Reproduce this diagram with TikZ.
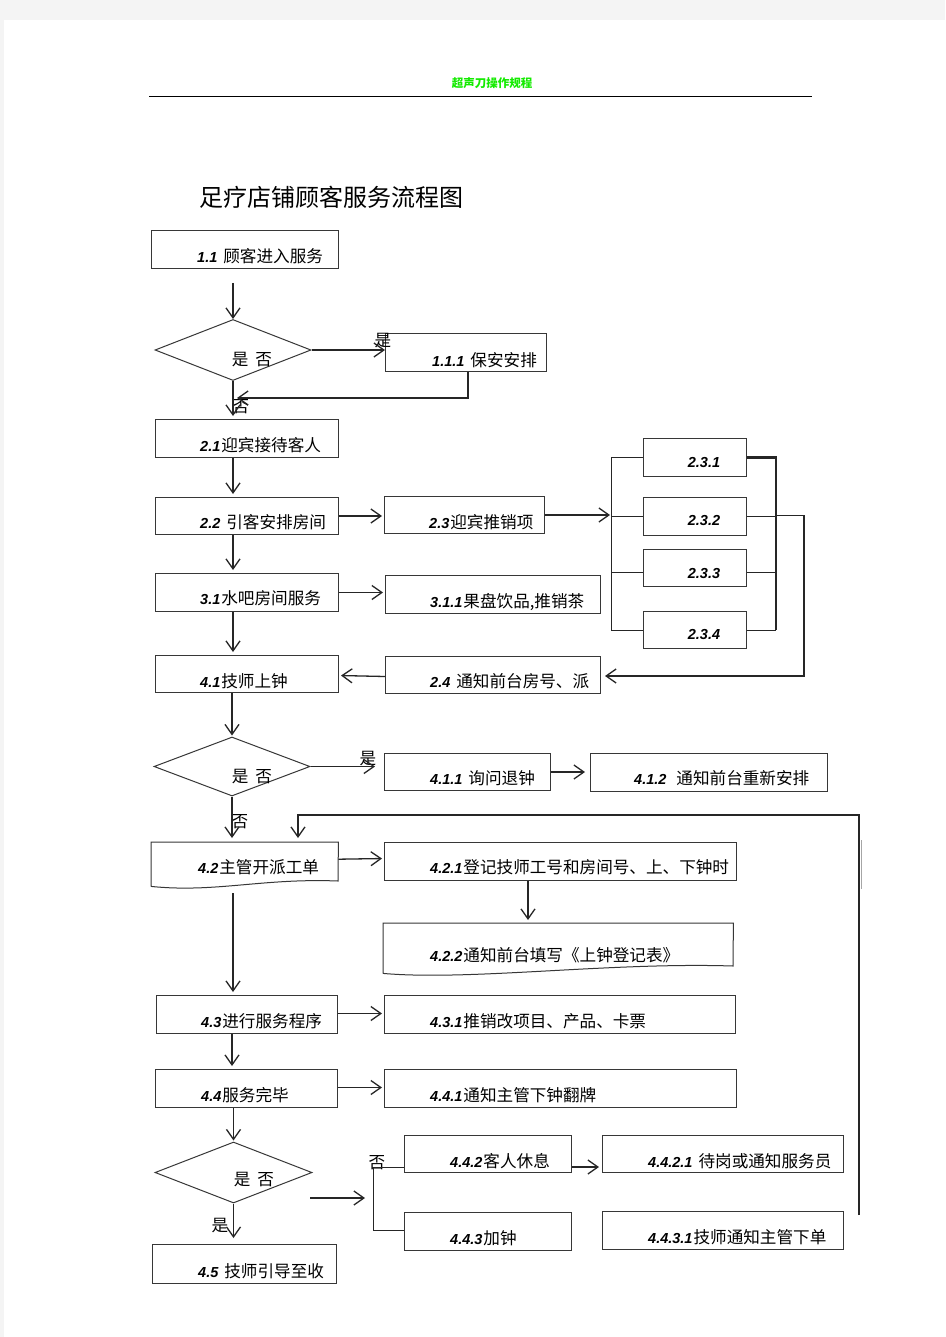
\documentclass[tikz,border=0pt]{standalone}
\usepackage{fontspec}
\newfontfamily\cjkf{Noto Sans CJK SC}
\newfontfamily\numf{Liberation Sans}
\usetikzlibrary{arrows.meta,shapes.geometric,calc}
\definecolor{hdrgreen}{RGB}{20,235,0}
\definecolor{pagegray}{RGB}{244,244,244}
\definecolor{boxline}{RGB}{55,55,55}
\newcommand\nbr[1]{{\numf\bfseries\itshape\fontsize{14.5pt}{16pt}\selectfont #1}}
\begin{document}
\begin{tikzpicture}[x=1pt,y=-1pt,
  box/.style={draw=boxline, line width=1pt, inner sep=0pt, anchor=north west},
  ghost/.style={draw=none, inner sep=0pt, anchor=north west},
  dia/.style={draw=boxline, line width=1pt, shape=diamond, inner sep=0pt},
  txt/.style={anchor=base west, inner sep=0pt, font=\cjkf\fontsize{16.6pt}{19pt}\selectfont},
  dtxt/.style={anchor=base, inner sep=0pt, font=\cjkf\fontsize{16.6pt}{19pt}\selectfont},
  lbl/.style={inner sep=0pt, font=\cjkf\fontsize{16.6pt}{19pt}\selectfont},
  ln/.style={line width=0.9pt, black!85},
  thick line/.style={line width=2.2pt, black!85},
  arr/.style={line width=1.3pt, black!85, -{Straight Barb[length=10pt,width=14pt,line width=1.3pt]}},
  boxpath/.style={draw=boxline, line width=1pt}
]
% page
\fill[pagegray] (0,0) rectangle (945,1337);
\fill[white] (4,20) rectangle (945,1337);
\useasboundingbox (0,0) rectangle (945,1337);

% header
\node[inner sep=0pt, text=hdrgreen, font=\cjkf\bfseries\fontsize{11.5pt}{13pt}\selectfont] (hdr) at (492,83) {超声刀操作规程};
\coordinate (hl1) at (149,97);
\coordinate (hl2) at (812,97);
\draw[line width=1pt, black] (hl1) -- (hl2);
\node[anchor=west, inner sep=0pt, font=\cjkf\fontsize{24pt}{26pt}\selectfont] (title) at (199,197) {足疗店铺顾客服务流程图};

% column coordinate
\coordinate (cx) at (233,0);

% boxes
\node[box, minimum width=187pt, minimum height=38pt] (b11) at (151,230) {};
\node[box, minimum width=161pt, minimum height=38pt] (b111) at (385,333) {};
\node[box, minimum width=183pt, minimum height=38pt] (b21) at (155,419) {};
\node[box, minimum width=183pt, minimum height=37pt] (b22) at (155,497) {};
\node[box, minimum width=160pt, minimum height=37pt] (b23) at (384,496) {};
\node[box, minimum width=103pt, minimum height=38pt] (b231) at (643,438) {};
\node[box, minimum width=103pt, minimum height=38pt] (b232) at (643,497) {};
\node[box, minimum width=103pt, minimum height=37pt] (b233) at (643,549) {};
\node[box, minimum width=103pt, minimum height=37pt] (b234) at (643,611) {};
\node[box, minimum width=215pt, minimum height=37pt] (b24) at (385,656) {};
\node[box, minimum width=183pt, minimum height=38pt] (b31) at (155,573) {};
\node[box, minimum width=215pt, minimum height=38pt] (b311) at (385,575) {};
\node[box, minimum width=183pt, minimum height=37pt] (b41) at (155,655) {};
\node[box, minimum width=166pt, minimum height=37pt] (b411) at (384,753) {};
\node[box, minimum width=237pt, minimum height=38pt] (b412) at (590,753) {};
\node[ghost, minimum width=187pt, minimum height=44pt] (b42) at (151,842) {};
\node[box, minimum width=352pt, minimum height=38pt] (b421) at (384,842) {};
\node[ghost, minimum width=350pt, minimum height=50pt] (b422) at (383,923) {};
\node[box, minimum width=181pt, minimum height=38pt] (b43) at (156,995) {};
\node[box, minimum width=351pt, minimum height=38pt] (b431) at (384,995) {};
\node[box, minimum width=182pt, minimum height=38pt] (b44) at (155,1069) {};
\node[box, minimum width=352pt, minimum height=38pt] (b441) at (384,1069) {};
\node[box, minimum width=167pt, minimum height=37pt] (b442) at (404,1135) {};
\node[box, minimum width=241pt, minimum height=37pt] (b4421) at (602,1135) {};
\node[box, minimum width=167pt, minimum height=38pt] (b443) at (404,1212) {};
\node[box, minimum width=241pt, minimum height=38pt] (b4431) at (602,1211) {};
\node[box, minimum width=184pt, minimum height=39pt] (b45) at (152,1244) {};

% document shapes
\draw[boxpath] (b42.south west) -- (b42.north west) -- (b42.north east) -- (338,881)
  .. controls (262,878) and (215,893) .. (b42.south west);
\draw[boxpath] (b422.south west) -- (b422.north west) -- (b422.north east) -- (733,966)
  .. controls (610,962) and (470,981) .. (b422.south west);

% diamonds
\node[dia, minimum width=156pt, minimum height=61pt] (d1) at (233,350) {};
\node[dia, minimum width=156pt, minimum height=59pt] (d2) at (232,766.5) {};
\node[dia, minimum width=157pt, minimum height=61pt] (d3) at (233.5,1172.5) {};
\node[dtxt] (d1t) at (252,365) {是\hspace{7pt}否};
\node[dtxt] (d2t) at (252,782) {是\hspace{7pt}否};
\node[dtxt] (d3t) at (254,1185) {是\hspace{7pt}否};

% texts
\node[txt] (t11) at (197,263) {\nbr{1.1}\hspace{6pt}顾客进入服务};
\node[txt] (t111) at (432,366) {\nbr{1.1.1}\hspace{6pt}保安安排};
\node[txt] (t21) at (200,451) {\nbr{2.1}\hspace{1pt}迎宾接待客人};
\node[txt] (t22) at (200,528) {\nbr{2.2}\hspace{6pt}引客安排房间};
\node[txt] (t23) at (429,528) {\nbr{2.3}\hspace{1pt}迎宾推销项};
\node[anchor=base, inner sep=0pt] (t231) at (704,467) {\nbr{2.3.1}};
\node[anchor=base, inner sep=0pt] (t232) at (704,525) {\nbr{2.3.2}};
\node[anchor=base, inner sep=0pt] (t233) at (704,578) {\nbr{2.3.3}};
\node[anchor=base, inner sep=0pt] (t234) at (704,639) {\nbr{2.3.4}};
\node[txt] (t31) at (200,604) {\nbr{3.1}\hspace{1pt}水吧房间服务};
\node[txt] (t311) at (430,607) {\nbr{3.1.1}\hspace{1pt}果盘饮品,推销茶};
\node[txt] (t41) at (200,687) {\nbr{4.1}\hspace{1pt}技师上钟};
\node[txt] (t24) at (430,687) {\nbr{2.4}\hspace{6pt}通知前台房号、派};
\node[txt] (t411) at (430,784) {\nbr{4.1.1}\hspace{6pt}询问退钟};
\node[txt] (t412) at (634,784) {\nbr{4.1.2}\hspace{10pt}通知前台重新安排};
\node[txt] (t42) at (198,873) {\nbr{4.2}\hspace{1pt}主管开派工单};
\node[txt] (t421) at (430,873) {\nbr{4.2.1}\hspace{1pt}登记技师工号和房间号、上、下钟时};
\node[txt] (t422) at (430,961) {\nbr{4.2.2}\hspace{1pt}通知前台填写《上钟登记表》};
\node[txt] (t43) at (201,1027) {\nbr{4.3}\hspace{1pt}进行服务程序};
\node[txt] (t431) at (430,1027) {\nbr{4.3.1}\hspace{1pt}推销改项目、产品、卡票};
\node[txt] (t44) at (201,1101) {\nbr{4.4}\hspace{1pt}服务完毕};
\node[txt] (t441) at (430,1101) {\nbr{4.4.1}\hspace{1pt}通知主管下钟翻牌};
\node[txt] (t442) at (450,1167) {\nbr{4.4.2}\hspace{1pt}客人休息};
\node[txt] (t4421) at (648,1167) {\nbr{4.4.2.1}\hspace{6pt}待岗或通知服务员};
\node[txt] (t443) at (450,1244) {\nbr{4.4.3}\hspace{1pt}加钟};
\node[txt] (t4431) at (648,1243) {\nbr{4.4.3.1}\hspace{1pt}技师通知主管下单};
\node[txt] (t45) at (198,1277) {\nbr{4.5}\hspace{6pt}技师引导至收};

% labels
\node[lbl] (l1) at (383,341) {是};
\node[lbl] (l2) at (241,407) {否};
\node[lbl] (l3) at (368,759) {是};
\node[lbl] (l4) at (240,822) {否};
\node[lbl] (l5) at (377,1163) {否};
\node[lbl] (l6) at (220,1226) {是};

% connectors: top part
\draw[arr, shorten <=14pt] (d1.north |- b11.south) -- (d1.north);
\draw[arr] (d1.east) -- (b111.west |- d1.east);
\coordinate (j1) at (237,398);
\draw[arr] ($(b111.south)+(2,0)$) |- (j1);
\draw[arr, shorten >=3pt] (d1.south) -- (d1.south |- b21.north);
\draw[arr, shorten >=3pt] (cx |- b21.south) -- (cx |- b22.north);
\draw[arr, shorten >=2pt] (b22.east) -- (b23.west |- b22.east);
\coordinate (brL) at (611,0);
\coordinate (brR) at (776,0);
\coordinate (brO) at (804,0);
\draw[arr, shorten >=1pt] (b23.east) -- (brL |- b23.east);
\draw[ln] (brL |- b231.west) -- (brL |- b234.west);
\draw[ln] (brL |- b231.west) -- (b231.west);
\draw[ln] (brL |- b232.west) -- (b232.west);
\draw[ln] ($(brL |- b233.west)+(0,4)$) -- ($(b233.west)+(0,4)$);
\draw[ln] (brL |- b234.west) -- (b234.west);
\draw[thick line] (b231.east) -- (brR |- b231.east) -- (brR |- b234.east);
\draw[ln] (b232.east) -- (brR |- b232.east);
\draw[ln] ($(b233.east)+(0,4)$) -- ($(brR |- b233.east)+(0,4)$);
\draw[ln] (b234.east) -- (brR |- b234.east);
\draw[arr, line width=1.1pt, shorten >=4pt] ($(brR |- b232.east)+(0,-1)$) -- ($(brO |- b232.east)+(0,-1)$) |- ($(b24.east)+(0,1)$);
\draw[arr, shorten >=2pt] ($(b24.west)+(0,1.5)$) -- ($(b41.east)+(0,1.5)$);
\draw[arr, shorten >=3pt] (cx |- b22.south) -- (cx |- b31.north);
\draw[arr, shorten >=2pt] (b31.east) -- (b311.west |- b31.east);
\draw[arr, shorten >=3pt] (cx |- b31.south) -- (cx |- b41.north);
\draw[arr, shorten >=1pt] (d2.north |- b41.south) -- (d2.north);
\draw[arr, shorten >=9pt] (d2.east) -- (b411.west |- d2.east);
\draw[arr, shorten >=5pt] (b411.east) -- (b412.west |- b411.east);
\draw[arr, shorten >=4pt] (d2.south) -- (d2.south |- b42.north);

% loop from right
\coordinate (lpA) at (859,1215);
\coordinate (lpB) at (859,815);
\draw[arr, line width=1.1pt] (lpA) -- (lpB) -| ($(b42.north west)+(147,-4)$);
\coordinate (gA) at (861.5,840);
\coordinate (gB) at (861.5,889);
\draw[line width=1.6pt, black!35] (gA) -- (gB);

% middle part
\draw[arr, shorten >=2pt] ($(b42.east)+(0,-5)$) -- ($(b421.west)+(0,-3)$);
\coordinate (c421) at (528,0);
\draw[arr, shorten >=3pt] (c421 |- b421.south) -- (c421 |- b422.north);
\draw[arr, shorten <=7pt, shorten >=3pt] (cx |- b42.south) -- (cx |- b43.north);
\draw[arr, shorten >=2pt] ($(b43.east)+(0,-1)$) -- ($(b431.west)+(0,-1)$);
\draw[arr, shorten >=3pt] ($(cx |- b43.south)+(-1,0)$) -- ($(cx |- b44.north)+(-1,0)$);
\draw[arr, shorten >=2pt] ($(b44.east)+(0,-1)$) -- ($(b441.west)+(0,-1)$);
\draw[arr, shorten >=1pt] (d3.north |- b44.south) -- (d3.north);

% bottom part
\coordinate (a3s) at (310,1198);
\coordinate (a3e) at (365,1198);
\draw[arr] (a3s) -- (a3e);
\coordinate (k1) at (373,1167);
\coordinate (k2) at (373,1230);
\draw[ln] (b442.west |- k1) -- (k1) -- (k2) -- (b443.west |- k2);
\draw[arr, shorten >=3pt] (b442.east |- k1) -- (b4421.west |- k1);
\draw[arr, shorten >=6pt] (d3.south) -- (d3.south |- b45.north);
\end{tikzpicture}
\end{document}
